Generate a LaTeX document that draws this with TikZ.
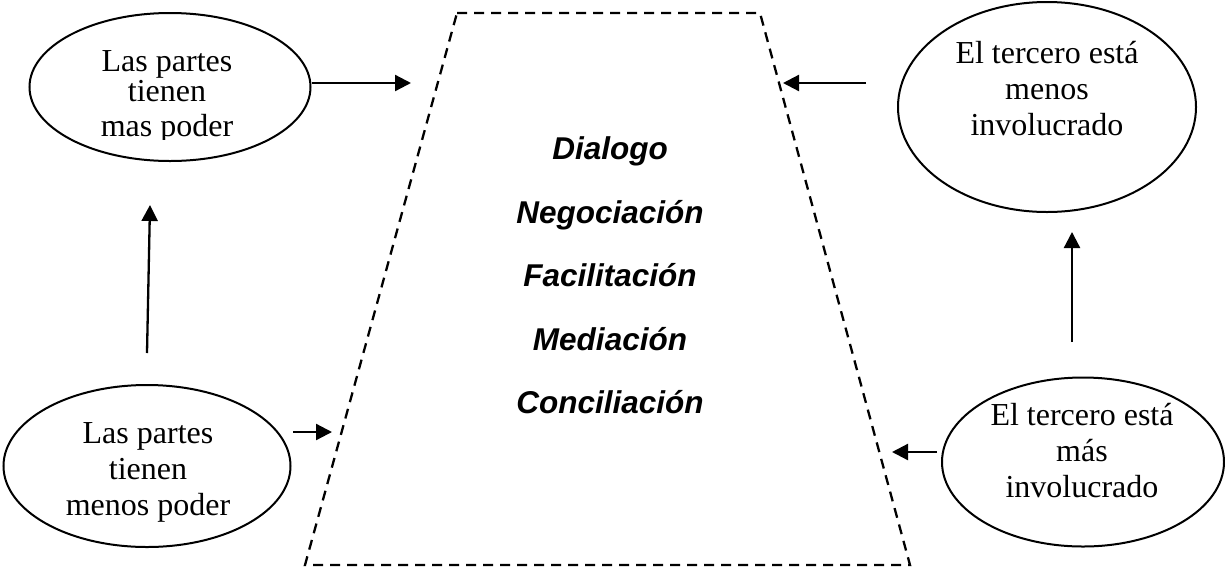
\documentclass[tikz,border=0pt]{standalone}
\usepackage{fontspec}
\setmainfont{Liberation Serif}
\newfontfamily\arialf{Liberation Sans}
\usetikzlibrary{arrows.meta,shapes.geometric}
\begin{document}
\begin{tikzpicture}[x=1pt,y=-1pt,
  oval/.style={draw,ellipse,line width=2pt,inner sep=0pt},
  lbl/.style={align=center,inner sep=0pt,anchor=north,font=\fontsize{32}{36}\selectfont},
  arr/.style={line width=2.3pt,-{Triangle[length=16pt,width=16pt]}},
  trap/.style={line width=2.3pt,dash pattern=on 10pt off 7pt},
  proc/.style={align=center,inner sep=0pt,anchor=north,font=\arialf\bfseries\itshape\fontsize{31.5}{63.5}\selectfont}]
\useasboundingbox (0,0) rectangle (1225,571);
% ellipses
\node[oval,minimum width=281pt,minimum height=148pt] (tl) at (170,87) {};
\node[oval,minimum width=298pt,minimum height=210pt] (tr) at (1047,107) {};
\node[oval,minimum width=282pt,minimum height=169pt] (br) at (1083,462) {};
\node[oval,minimum width=287pt,minimum height=162pt] (bl) at (147,466) {};
% texts
\begin{scope}
\clip (0,0) rectangle (1225,139);
\node[lbl,font=\fontsize{32}{30}\selectfont] (tlt) at (167,50) {Las partes\\tienen\\[5pt]mas poder};
\end{scope}
\node[lbl] (trt) at (1047,41) {El tercero está\\menos\\involucrado};
\node[lbl] (brt) at (1082,403) {El tercero está\\más\\involucrado};
\node[lbl] (blt) at (148,422) {Las partes\\tienen\\menos poder};
% trapezoid
\coordinate (p1) at (457,13);
\coordinate (p2) at (760,13);
\coordinate (p3) at (910,565);
\coordinate (p4) at (305,565);
\draw[trap] (p1) -- (p2) -- (p3) -- (p4) -- cycle;
\node[proc] (mid) at (610,136.5) {Dialogo\\Negociación\\Facilitación\\Mediación\\Conciliación};
% arrows
\coordinate (a1e) at (411,83);
\draw[arr] (tl.east |- a1e) -- (a1e);
\coordinate (a2s) at (866,83);
\coordinate (a2e) at (783,83);
\draw[arr] (a2s) -- (a2e);
\coordinate (a3s) at (293,432);
\coordinate (a3e) at (332,432);
\draw[arr] (a3s) -- (a3e);
\coordinate (a4s) at (937,452);
\coordinate (a4e) at (892,452);
\draw[arr] (a4s) -- (a4e);
\coordinate (a5s) at (147,353);
\coordinate (a5e) at (150,205);
\draw[arr] (a5s) -- (a5e);
\coordinate (a6s) at (1072,342);
\coordinate (a6e) at (1072,232);
\draw[arr] (a6s) -- (a6e);
\end{tikzpicture}
\end{document}
